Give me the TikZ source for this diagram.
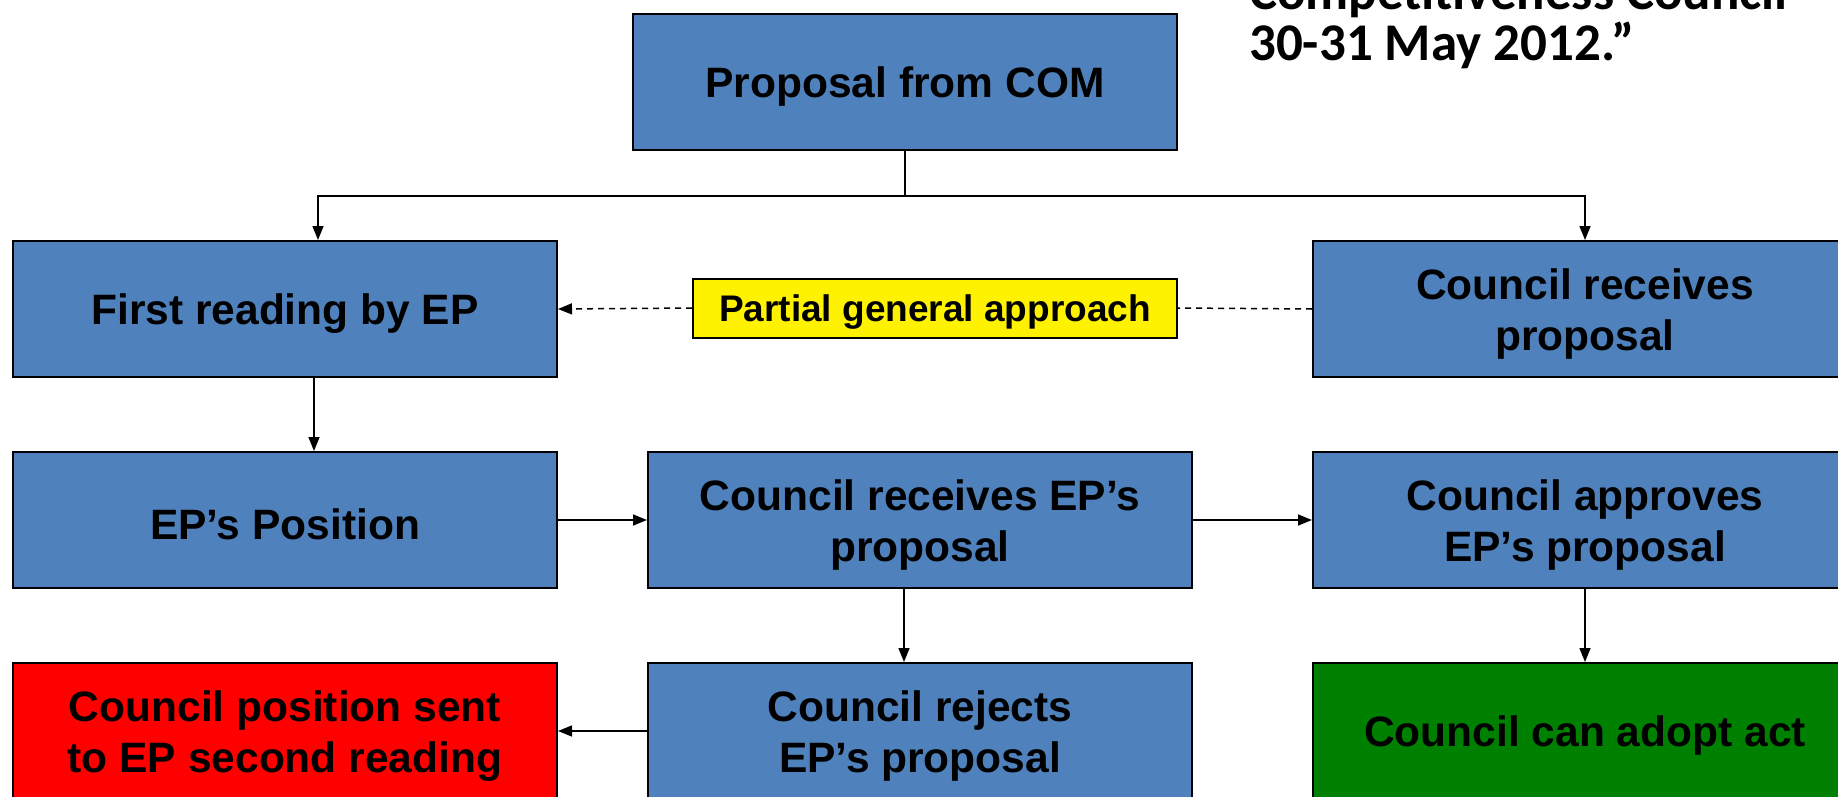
\documentclass[tikz,border=0pt]{standalone}
\usepackage{fontspec}
\setmainfont{Liberation Sans}
\newfontfamily\quotefont{Carlito}
\usetikzlibrary{arrows.meta}
\definecolor{boxblue}{HTML}{4F81BD}
\definecolor{okgreen}{HTML}{008000}
\newcommand\toprule[1][40pt]{\rule{0pt}{#1}}

\begin{document}
\begin{tikzpicture}[
  x=1pt, y=-1pt,
  stage/.style={
    rectangle, draw, line width=2pt, fill=boxblue,
    minimum width=544pt, minimum height=136pt, inner sep=0pt,
    align=center, font=\fontsize{42.5}{51}\selectfont\bfseries
  },
  link/.style={line width=1.5pt, -{Triangle[length=14pt,width=11pt]}},
  dashline/.style={line width=1.5pt, dash pattern=on 6pt off 5pt}
]
  \useasboundingbox (0,0) rectangle (1838,797);
  \clip (0,0) rectangle (1838,797);

  \node[stage] (com) at (905,82) {\toprule Proposal from COM};
  \node[stage] (first) at (285,309) {\toprule First reading by EP};
  \node[stage] (council) at (1585,309) {\toprule Council receives\\proposal};
  \node[stage] (epos) at (285,520) {\toprule EP’s Position};
  \node[stage] (crecv) at (920,520) {\toprule Council receives EP’s\\proposal};
  \node[stage] (capp) at (1585,520) {\toprule Council approves\\EP’s proposal};
  \node[stage, fill=red] (csent) at (285,731) {\toprule Council position sent\\to EP second reading};
  \node[stage] (crej) at (920,731) {\toprule Council rejects\\EP’s proposal};
  \node[stage, fill=okgreen] (cadopt) at (1585,731) {\toprule Council can adopt act};
  \node[draw, line width=2pt, fill=yellow, minimum width=484pt,
        minimum height=59pt, inner sep=0pt,
        font=\fontsize{37}{43}\selectfont\bfseries] (partial) at (935,308)
        {\toprule[35pt]Partial general approach};

  % dated quote, cut by the top edge
  \node[anchor=base west, inner sep=0pt, font=\fontsize{53}{51}\selectfont\quotefont\bfseries]
    (quote1) at (1249,10) {Competitiveness Council};
  \node[anchor=base west, inner sep=0pt, font=\fontsize{53}{51}\selectfont\quotefont\bfseries]
    (quote2) at (1249,61) {30-31 May 2012.”};

  \coordinate (split) at (905,196);
  \draw[line width=1.5pt] (com.south) -- (split);
  \draw[link] (split) -| ([xshift=33pt]first.north);
  \draw[link] (split) -| (council.north);
  \draw[link] ([xshift=29pt]first.south) -- ([xshift=29pt]epos.north);
  \draw[link] (epos.east) -- (crecv.west);
  \draw[link] (crecv.east) -- (capp.west);
  \draw[link] ([xshift=-16pt]crecv.south) -- ([xshift=-16pt]crej.north);
  \draw[link] (capp.south) -- (cadopt.north);
  \draw[link] (crej.west) -- (csent.east);
  \draw[dashline] (council.west) -- (partial.east);
  \draw[link, dashline] (partial.west) -- (first.east);
\end{tikzpicture}
\end{document}
